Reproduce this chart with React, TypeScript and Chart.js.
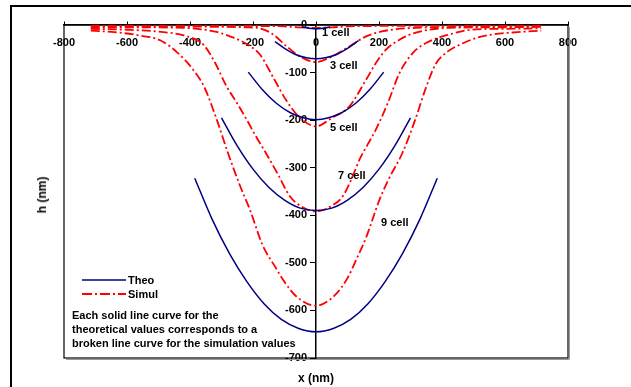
import React, { useEffect, useRef } from "react";
import { Chart, registerables } from "chart.js";

Chart.register(...registerables);

// ---- axis ranges / ticks ----
const xMin = -800;
const xMax = 800;
const xStep = 200;
const yMin = -700;
const yMax = 0;
const yStep = 100;

// ---- theoretical curves (solid) ----
const theo1X = [-45, -30, -15, 0, 15, 30, 45];
const theo1H = [-4, -6, -7.5, -8, -7.5, -6, -4];

const theo3X = [-130, -100, -65, -30, 0, 30, 65, 100, 135];
const theo3H = [-35, -49, -62, -69, -71, -69, -62, -49, -33];

const theo5X = [-215, -170, -125, -80, -40, 0, 40, 80, 125, 170, 215];
const theo5H = [-99, -136, -165, -185, -195, -199, -195, -185, -165, -136, -99];

const theo7X = [-300, -250, -200, -150, -100, -50, 0, 50, 100, 150, 200, 250, 300];
const theo7H = [-195, -254, -303, -341, -368, -385, -390, -385, -368, -341, -303, -254, -195];

const theo9X = [-385, -330, -275, -220, -165, -110, -55, 0, 55, 110, 165, 220, 275, 330, 385];
const theo9H = [-322, -408, -480, -539, -586, -619, -638, -645, -638, -619, -586, -539, -480, -408, -322];

// ---- simulation curves (dash-dot) ----
const sim1X = [-715, -400, -200, -100, -50, 0, 50, 100, 200, 400, 715];
const sim1H = [-1, -1.5, -2, -3, -5, -6, -5, -3, -2, -1.5, -1];

const sim3X = [-715, -500, -300, -220, -178, -136, -93, -51, 0, 42, 106, 159, 212, 317, 500, 715];
const sim3H = [-3, -3, -4, -5, -7, -20, -45, -66, -78, -69, -45, -24, -13, -6, -4, -3];

const sim5X = [-715, -550, -420, -320, -260, -220, -178, -136, -93, -51, 0, 51, 106, 159, 190, 222, 265, 317, 423, 550, 715];
const sim5H = [-5, -5, -6, -14, -27, -40, -62, -110, -160, -195, -213, -195, -171, -115, -80, -52, -31, -16, -6, -5, -4];

const sim7X = [-715, -600, -500, -420, -358, -320, -284, -250, -220, -190, -160, -120, -83, -50, 0, 50, 85, 115, 138, 165, 190, 228, 265, 307, 349, 423, 508, 600, 715];
const sim7H = [-8, -10, -14, -22, -41, -80, -129, -165, -199, -235, -268, -315, -360, -380, -392, -380, -360, -320, -283, -250, -220, -164, -101, -59, -38, -20, -9, -8, -7];

const sim9X = [-715, -640, -560, -495, -440, -390, -355, -315, -280, -240, -210, -170, -130, -100, -60, 0, 60, 100, 130, 160, 200, 230, 275, 315, 350, 380, 420, 465, 510, 560, 640, 715];
const sim9H = [-12, -15, -22, -32, -58, -94, -130, -199, -268, -340, -388, -462, -508, -540, -572, -590, -568, -532, -490, -445, -370, -325, -268, -199, -130, -82, -55, -39, -27, -20, -15, -12];

const theoSeries = [
  [theo1X, theo1H],
  [theo3X, theo3H],
  [theo5X, theo5H],
  [theo7X, theo7H],
  [theo9X, theo9H],
];
const simSeries = [
  [sim1X, sim1H],
  [sim3X, sim3H],
  [sim5X, sim5H],
  [sim7X, sim7H],
  [sim9X, sim9H],
];

const legendLabels = ["Theo", "Simul"];
const cellLabels = ["1 cell", "3 cell", "5 cell", "7 cell", "9 cell"];
const noteLines = [
  "Each solid line curve for the",
  "theoretical values corresponds to a",
  "broken line curve for the simulation values",
];
const xTitle = "x (nm)";
const yTitle = "h (nm)";

const NAVY = "#000080";
const RED = "#FF0000";
const DASH = [9, 3, 2, 3];
const FONT = '"Liberation Sans", Arial, Helvetica, sans-serif';

const framePlugin = {
  id: "frame",
  beforeDatasetsDraw(chart: any) {
    const { ctx, chartArea } = chart;
    const { left, right, top, bottom } = chartArea;
    ctx.save();
    ctx.strokeStyle = "#9a9a9a";
    ctx.lineWidth = 1;
    ctx.beginPath();
    ctx.moveTo(right + 1.5, top + 2);
    ctx.lineTo(right + 1.5, bottom + 1.5);
    ctx.lineTo(left + 2, bottom + 1.5);
    ctx.stroke();
    ctx.strokeStyle = "#000";
    ctx.lineWidth = 1.2;
    ctx.strokeRect(left, top, right - left, bottom - top);
    ctx.restore();
  },
};

const textBase: React.CSSProperties = {
  position: "absolute",
  fontFamily: FONT,
  fontWeight: "bold",
  fontSize: 11,
  color: "#000",
  whiteSpace: "nowrap",
  lineHeight: "11px",
};

const cellPos = [
  { left: 322, top: 26.5 },
  { left: 330, top: 60 },
  { left: 330, top: 122 },
  { left: 338, top: 169.5 },
  { left: 381, top: 217 },
];

export default function App() {
  const ref = useRef<HTMLCanvasElement | null>(null);

  useEffect(() => {
    if (!ref.current) return;
    const datasets: any[] = [];
    theoSeries.forEach(([xs, hs], i) => {
      datasets.push({
        label: legendLabels[0] + " " + cellLabels[i],
        data: xs.map((x, k) => ({ x, y: hs[k] })),
        borderColor: NAVY,
        borderWidth: 1.5,
        pointRadius: 0,
        fill: false,
        cubicInterpolationMode: "monotone",
      });
    });
    simSeries.forEach(([xs, hs], i) => {
      datasets.push({
        label: legendLabels[1] + " " + cellLabels[i],
        data: xs.map((x, k) => ({ x, y: hs[k] })),
        borderColor: RED,
        borderWidth: 1.8,
        borderDash: DASH,
        pointRadius: 0,
        fill: false,
        cubicInterpolationMode: "monotone",
      });
    });

    const chart = new Chart(ref.current, {
      type: "line",
      data: { datasets },
      options: {
        animation: false,
        responsive: false,
        maintainAspectRatio: false,
        layout: { padding: { left: 64, right: 63, top: 25, bottom: 29 } },
        plugins: { legend: { display: false }, tooltip: { enabled: false } },
        scales: {
          x: {
            type: "linear",
            position: { y: 0 } as any,
            min: xMin,
            max: xMax,
            ticks: {
              stepSize: xStep,
              color: "#000",
              padding: 15,
              maxRotation: 0,
              font: { family: FONT, size: 11, weight: "bold" },
            },
            grid: { drawOnChartArea: false, drawTicks: true, tickLength: -4, color: "#000" },
            border: { display: true, color: "#000", width: 1.5 },
          },
          y: {
            type: "linear",
            position: "center",
            min: yMin,
            max: yMax,
            ticks: {
              stepSize: yStep,
              color: "#000",
              padding: 4,
              font: { family: FONT, size: 11, weight: "bold" },
            },
            grid: { drawOnChartArea: false, drawTicks: true, tickLength: 5, color: "#000" },
            border: { display: true, color: "#000", width: 1.5 },
          },
        },
      } as any,
      plugins: [framePlugin],
    });
    return () => chart.destroy();
  }, []);

  return (
    <div
      style={{
        position: "fixed",
        left: 0,
        top: 0,
        width: 631,
        height: 387,
        overflow: "hidden",
        background: "#fff",
      }}
    >
      <div
        style={{
          position: "absolute",
          left: 10,
          top: 5,
          width: 720,
          height: 520,
          border: "2px solid #000",
          boxSizing: "border-box",
        }}
      />
      <canvas
        ref={ref}
        width={631}
        height={387}
        style={{ position: "absolute", left: 0, top: 0, width: 631, height: 387 }}
      />
      {cellLabels.map((t, i) => (
        <div key={t} style={{ ...textBase, left: cellPos[i].left, top: cellPos[i].top }}>
          {t}
        </div>
      ))}
      <svg
        width={60}
        height={30}
        style={{ position: "absolute", left: 78, top: 270 }}
      >
        <line x1={4} y1={10} x2={48} y2={10} stroke={NAVY} strokeWidth={1.5} />
        <line
          x1={4}
          y1={24}
          x2={48}
          y2={24}
          stroke={RED}
          strokeWidth={2}
          strokeDasharray="10 3 2 3"
        />
      </svg>
      <div style={{ ...textBase, left: 128, top: 274.5 }}>{legendLabels[0]}</div>
      <div style={{ ...textBase, left: 128, top: 288.5 }}>{legendLabels[1]}</div>
      <div style={{ ...textBase, left: 72, top: 308, lineHeight: "14px" }}>
        {noteLines.map((l) => (
          <div key={l}>{l}</div>
        ))}
      </div>
      <div
        style={{
          ...textBase,
          fontSize: 12,
          lineHeight: "12px",
          left: 316,
          top: 372,
          transform: "translateX(-50%)",
        }}
      >
        {xTitle}
      </div>
      <div
        style={{
          ...textBase,
          fontSize: 12,
          lineHeight: "12px",
          left: 42,
          top: 195,
          transform: "translate(-50%, -50%) rotate(-90deg)",
        }}
      >
        {yTitle}
      </div>
    </div>
  );
}
